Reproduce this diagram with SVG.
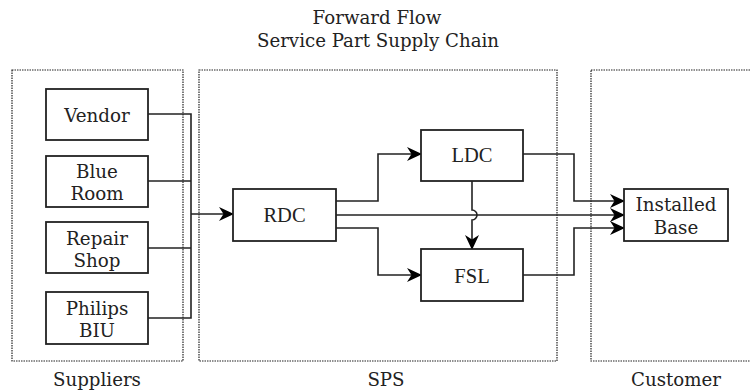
<svg xmlns="http://www.w3.org/2000/svg" width="750" height="392" viewBox="0 0 750 392">
<style>
.grp{fill:none;stroke:#222;stroke-width:1.2;stroke-dasharray:1.5 1}
.box{fill:#fff;stroke:#222;stroke-width:1.8}
.t{font-family:"DejaVu Serif","Liberation Serif",serif;font-size:18.3px;fill:#222;text-anchor:middle}
.tm{font-family:"Liberation Serif",serif;font-size:20.5px;fill:#222;text-anchor:middle}
.lbl{font-family:"DejaVu Serif","Liberation Serif",serif;font-size:18.2px;fill:#222;text-anchor:middle}
.c{fill:none;stroke:#222;stroke-width:1.6}
.a{marker-end:url(#ah)}
</style>
<defs>
<marker id="ah" viewBox="0 0 15 15" refX="14" refY="7.5" markerWidth="15" markerHeight="15" markerUnits="userSpaceOnUse" orient="auto">
<path d="M0,0.5 L15,7.5 L0,14.5 L4.5,7.5 Z" fill="#000"/>
</marker>
</defs>
<rect width="750" height="392" fill="#fff"/>
<g id="title">
<text class="lbl" x="377" y="24">Forward Flow</text>
<text class="lbl" x="378" y="47">Service Part Supply Chain</text>
</g>
<g id="suppliers">
<rect class="grp" x="12" y="70" width="171" height="291"/>
<text class="lbl" x="97" y="386">Suppliers</text>
</g>
<g id="sps">
<rect class="grp" x="199" y="70" width="358" height="291"/>
<text class="lbl" x="386" y="386">SPS</text>
</g>
<g id="customer">
<rect class="grp" x="591" y="70" width="180" height="291"/>
<text class="lbl" x="676" y="386">Customer</text>
</g>
<g id="connectors">
<path class="c" d="M148,114 H191 V318 H148"/>
<path class="c" d="M148,181 H191"/>
<path class="c" d="M148,248 H191"/>
<path class="c a" d="M191,214 H233"/>
<path class="c a" d="M336,201 H378 V154 H421"/>
<path class="c a" d="M336,228 H378 V275 H421"/>
<path class="c a" d="M336,215 H624"/>
<path class="c a" d="M472,181 V210 A5,5 0 0 1 472,220 V249"/>
<path class="c a" d="M523,154 H574 V201 H624"/>
<path class="c a" d="M523,275 H574 V228 H624"/>
</g>
<g id="vendor">
<rect class="box" x="46" y="89" width="102" height="51"/>
<text class="t" x="97" y="122">Vendor</text>
</g>
<g id="blueroom">
<rect class="box" x="46" y="156" width="102" height="51"/>
<text class="t" x="97" y="178">Blue</text>
<text class="t" x="97" y="200">Room</text>
</g>
<g id="repairshop">
<rect class="box" x="46" y="222" width="102" height="51"/>
<text class="t" x="97" y="245">Repair</text>
<text class="t" x="97" y="267">Shop</text>
</g>
<g id="philipsbiu">
<rect class="box" x="46" y="292" width="102" height="52"/>
<text class="t" x="97" y="315">Philips</text>
<text class="t" x="97" y="337">BIU</text>
</g>
<g id="rdc">
<rect class="box" x="233" y="189" width="103" height="52"/>
<text class="tm" x="284.5" y="222">RDC</text>
</g>
<g id="ldc">
<rect class="box" x="421" y="130" width="102" height="51"/>
<text class="tm" x="472" y="162">LDC</text>
</g>
<g id="fsl">
<rect class="box" x="421" y="249" width="102" height="52"/>
<text class="tm" x="472" y="283">FSL</text>
</g>
<g id="installedbase">
<rect class="box" x="624" y="189" width="104" height="52"/>
<text class="t" x="676" y="211">Installed</text>
<text class="t" x="676" y="234">Base</text>
</g>
</svg>
